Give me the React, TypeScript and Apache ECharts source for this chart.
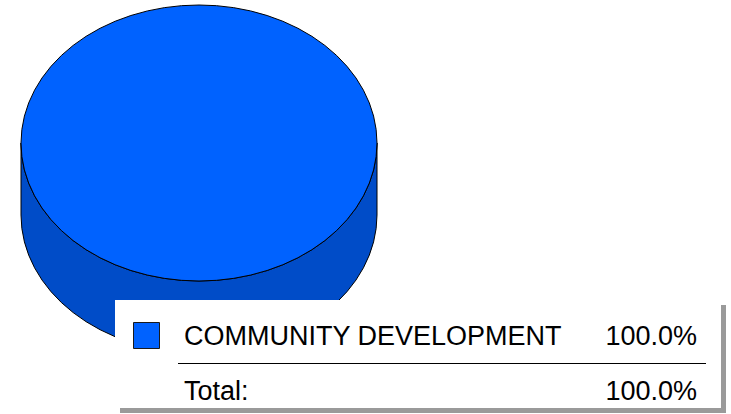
import React, { useEffect, useRef } from "react";
import * as echarts from "echarts";

const categories = ["COMMUNITY DEVELOPMENT"];
const values = [100];
const totalLabel = "Total:";
const topColors = ["#0062FF"];
const sideColors = ["#004CC8"];

const total = values.reduce((a, b) => a + b, 0);
const pct = (v: number) => ((v / total) * 100).toFixed(1) + "%";

// geometry
const CX = 199;
const CY = 143;
const RX = 178;
const RY = 138;
const DEPTH = 72;
const START = -Math.PI / 2;

const pt = (a: number, dy = 0) => [CX + RX * Math.cos(a), CY + RY * Math.sin(a) + dy];

function topPath(a0: number, a1: number): string {
  const span = a1 - a0;
  if (span >= 2 * Math.PI - 1e-6) {
    return `M ${CX - RX} ${CY} A ${RX} ${RY} 0 1 1 ${CX + RX} ${CY} A ${RX} ${RY} 0 1 1 ${CX - RX} ${CY} Z`;
  }
  const p0 = pt(a0);
  const p1 = pt(a1);
  const large = span > Math.PI ? 1 : 0;
  return `M ${CX} ${CY} L ${p0[0]} ${p0[1]} A ${RX} ${RY} 0 ${large} 1 ${p1[0]} ${p1[1]} Z`;
}

function sidePaths(a0: number, a1: number): string[] {
  const out: string[] = [];
  const twoPi = 2 * Math.PI;
  let s = a0 % twoPi;
  if (s < 0) s += twoPi;
  const e = s + (a1 - a0);
  const ranges = [
    [0, Math.PI],
    [twoPi, twoPi + Math.PI],
  ];
  for (const [r0, r1] of ranges) {
    const b0 = Math.max(s, r0);
    const b1 = Math.min(e, r1);
    if (b1 - b0 > 1e-6) {
      const p0 = pt(b0);
      const p0d = pt(b0, DEPTH);
      const p1 = pt(b1);
      const p1d = pt(b1, DEPTH);
      out.push(
        `M ${p0[0]} ${p0[1]} L ${p0d[0]} ${p0d[1]} A ${RX} ${RY} 0 0 1 ${p1d[0]} ${p1d[1]} L ${p1[0]} ${p1[1]} A ${RX} ${RY} 0 0 0 ${p0[0]} ${p0[1]} Z`
      );
    }
  }
  return out;
}

export default function App() {
  const ref = useRef<HTMLDivElement>(null);
  useEffect(() => {
    document.body.style.margin = "0";
    if (!ref.current) return;
    const chart = echarts.init(ref.current, null, { renderer: "svg" });
    const font = "Liberation Sans, Arial, Helvetica, sans-serif";

    const legendChildren: any[] = [
      { type: "rect", shape: { x: 120, y: 305, width: 606, height: 108 }, style: { fill: "#9a9a9a" }, z: 10 },
      { type: "rect", shape: { x: 115, y: 300, width: 606, height: 108 }, style: { fill: "#ffffff" }, z: 11 },
    ];
    categories.forEach((c, i) => {
      const y = 336 + i * 40;
      legendChildren.push(
        { type: "rect", shape: { x: 133.5, y: 322.5 + i * 40, width: 26, height: 26 }, style: { fill: topColors[i], stroke: "#1a1a1a", lineWidth: 1 }, z: 12 },
        { type: "text", x: 184, y, style: { text: c, font: `27px ${font}`, fill: "#000", textVerticalAlign: "middle", verticalAlign: "middle" }, z: 12 },
        { type: "text", x: 697, y, style: { text: pct(values[i]), font: `27px ${font}`, fill: "#000", align: "right", verticalAlign: "middle" }, z: 12 }
      );
    });
    const lineY = 363 + (categories.length - 1) * 40;
    legendChildren.push(
      { type: "line", shape: { x1: 178, y1: lineY + 0.5, x2: 706, y2: lineY + 0.5 }, style: { stroke: "#000", lineWidth: 1 }, z: 12 },
      { type: "text", x: 184, y: lineY + 28, style: { text: totalLabel, font: `27px ${font}`, fill: "#000", verticalAlign: "middle" }, z: 12 },
      { type: "text", x: 697, y: lineY + 28, style: { text: pct(total), font: `27px ${font}`, fill: "#000", align: "right", verticalAlign: "middle" }, z: 12 }
    );

    chart.setOption({
      animation: false,
      backgroundColor: "#ffffff",
      series: [
        {
          type: "custom",
          coordinateSystem: "none",
          data: values.map((v, i) => ({ name: categories[i], value: [v] })),
          renderItem: (params: any, api: any) => {
            const i = params.dataIndex;
            const before = values.slice(0, i).reduce((a, b) => a + b, 0);
            const v = api.value(0);
            const a0 = START + (before / total) * 2 * Math.PI;
            const a1 = a0 + (v / total) * 2 * Math.PI;
            const children: any[] = sidePaths(a0, a1).map((d) => ({
              type: "path",
              shape: { pathData: d },
              style: { fill: sideColors[i % sideColors.length], stroke: "#000", lineWidth: 1 },
              z2: 1,
            }));
            children.push({
              type: "path",
              shape: { pathData: topPath(a0, a1) },
              style: { fill: topColors[i % topColors.length], stroke: "#000", lineWidth: 1 },
              z2: 2,
            });
            return { type: "group", children };
          },
          z: 1,
        },
      ],
      graphic: [{ type: "group", children: legendChildren, z: 10 }],
    });
    return () => chart.dispose();
  }, []);
  return <div ref={ref} style={{ width: 731, height: 414 }} />;
}
